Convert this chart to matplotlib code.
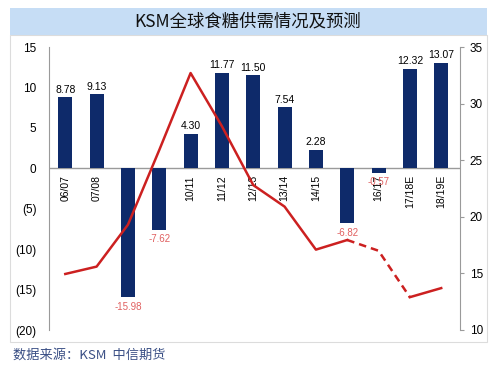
import numpy as np
import matplotlib
matplotlib.use("Agg")
import matplotlib.pyplot as plt
from matplotlib.patches import Rectangle

plt.rcParams['font.family'] = ['Liberation Sans', 'Noto Sans CJK SC', 'DejaVu Sans']

# data
seasons = ["06/07", "07/08", "08/09", "09/10", "10/11", "11/12", "12/13",
           "13/14", "14/15", "15/16", "16/17", "17/18E", "18/19E"]
surplus = [8.78, 9.13, -15.98, -7.62, 4.30, 11.77, 11.50, 7.54, 2.28,
           -6.82, -0.57, 12.32, 13.07]
price = [14.95, 15.6, 19.3, 25.9, 32.7, 28.0, 22.8, 20.9, 17.1,
         17.95, 17.0, 12.9, 13.7]
left_ticks = [15, 10, 5, 0, -5, -10, -15, -20]
left_labels = ["15", "10", "5", "0", "(5)", "(10)", "(15)", "(20)"]
right_ticks = [10, 15, 20, 25, 30, 35]

bar_col = "#0e2a6a"
line_col = "#cc2020"

fig = plt.figure(figsize=(5, 3.75), dpi=100)

# background panels
fig.patches.append(Rectangle((10 / 500, 1 - 342 / 375), 477 / 500, 307 / 375,
                             transform=fig.transFigure, facecolor="white",
                             edgecolor="#dcdcdc", lw=0.8, zorder=-2))
fig.patches.append(Rectangle((10 / 500, 1 - 35 / 375), 477 / 500, 27 / 375,
                             transform=fig.transFigure, facecolor="#c6ddf5",
                             edgecolor="none", zorder=-2))
fig.text(0.495, 1 - 21.5 / 375, "KSM全球食糖供需情况及预测", ha="center", va="center",
         fontsize=12.5, family=["Noto Sans CJK SC"], color="#111111")
fig.text(13 / 500, 1 - 355 / 375, "数据来源：KSM  中信期货", ha="left", va="center",
         fontsize=9.5, family=["Noto Sans CJK SC"], color="#3a4f85")

ax = fig.add_axes([49 / 500, 1 - 330 / 375, 411 / 500, 283 / 375])
ax.patch.set_alpha(0)
x = np.arange(len(seasons))

ax.bar(x, surplus, width=0.45, color=bar_col, zorder=2)
ax.axhline(0, color="#9a9a9a", lw=1, zorder=1.5)
ax.set_xlim(-0.52, 12.6)
ax.set_ylim(-20, 15)
ax.set_yticks(left_ticks)
ax.set_yticklabels(left_labels)
ax.tick_params(axis="y", length=0, labelsize=8.5, pad=9)
ax.set_xticks([])
for s in ["top", "right", "bottom"]:
    ax.spines[s].set_visible(False)
ax.spines["left"].set_color("#9a9a9a")

# season labels under the zero line, hidden behind negative bars
for i, lab in enumerate(seasons):
    ax.annotate(lab, (i, 0), xytext=(0, -5), textcoords="offset points",
                rotation=90, ha="center", va="top", fontsize=7.5, zorder=1)

for i, v in enumerate(surplus):
    if v >= 0:
        ax.annotate(f"{v:.2f}", (i, v), xytext=(0, 2), textcoords="offset points",
                    ha="center", va="bottom", fontsize=7.5, zorder=3)
    else:
        ax.annotate(f"{v:.2f}", (i, v), xytext=(0, -3), textcoords="offset points",
                    ha="center", va="top", fontsize=7, color="#e06060", zorder=3)

ax2 = ax.twinx()
ax2.set_ylim(10, 35)
ax2.set_yticks(right_ticks)
ax2.tick_params(axis="y", length=3, labelsize=8.5, color="#9a9a9a", pad=4)
for s in ["top", "left", "bottom"]:
    ax2.spines[s].set_visible(False)
ax2.spines["right"].set_color("#9a9a9a")

ax2.plot(x[:10], price[:10], color=line_col, lw=1.8)
ax2.plot(x[9:12], price[9:12], color=line_col, lw=1.8, ls=(0, (3, 2)))
ax2.plot(x[11:], price[11:], color=line_col, lw=1.8)

fig.savefig("out.png", dpi=100)
